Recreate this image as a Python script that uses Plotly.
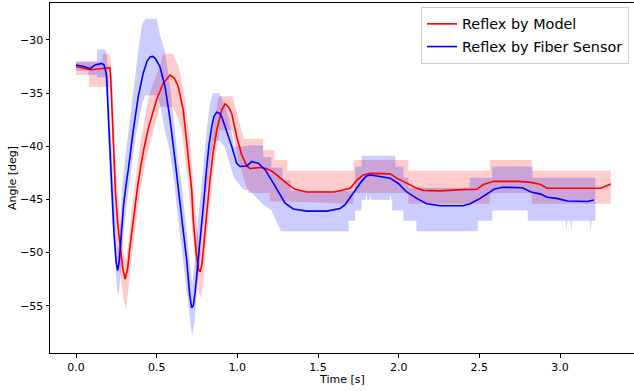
import plotly.graph_objects as go

# ---- Reflex by Model (red) ----
model_t = [0.00, 0.05, 0.09, 0.15, 0.19, 0.21, 0.215, 0.225, 0.235, 0.245, 0.26, 0.275, 0.29, 0.304,
           0.32, 0.335, 0.35, 0.366, 0.38, 0.40, 0.42, 0.45, 0.48, 0.50, 0.54, 0.583, 0.61, 0.634,
           0.665, 0.686, 0.707, 0.717, 0.727, 0.745, 0.76, 0.769, 0.78, 0.79, 0.81, 0.83, 0.85,
           0.872, 0.903, 0.924, 0.945, 0.965, 0.996, 1.027, 1.058, 1.08, 1.14, 1.18, 1.22, 1.265,
           1.316, 1.358, 1.43, 1.60, 1.678, 1.70, 1.74, 1.78, 1.823, 1.885, 1.947, 1.988, 2.05,
           2.112, 2.153, 2.257, 2.36, 2.484, 2.525, 2.567, 2.59, 2.736, 2.82, 2.88, 2.92, 3.046,
           3.253, 3.315]
model_angle = [-32.5, -32.7, -32.8, -32.7, -32.6, -32.6, -33.5, -37.0, -41.0, -44.5, -47.5, -49.8, -51.5, -52.5,
               -51.5, -49.4, -47.5, -45.8, -44.0, -42.0, -40.3, -38.2, -36.5, -35.6, -34.1, -33.3, -33.6, -34.4,
               -36.6, -39.4, -42.2, -44.1, -47.0, -50.0, -51.6, -51.8, -51.2, -49.5, -46.0, -43.2, -40.6,
               -38.5, -36.6, -36.0, -36.3, -36.9, -39.1, -40.8, -41.85, -42.1, -42.0, -42.1, -42.4, -43.0,
               -43.6, -44.05, -44.3, -44.3, -44.05, -43.95, -43.2, -42.7, -42.55, -42.6, -42.6, -43.0, -43.5,
               -43.95, -44.15, -44.2, -44.1, -44.05, -43.6, -43.4, -43.3, -43.3, -43.4, -43.6, -43.95, -43.95,
               -43.95, -43.55]

model_band_t = [0.00, 0.08, 0.08, 0.165, 0.165, 0.205, 0.215, 0.225, 0.235, 0.25, 0.265, 0.28, 0.295, 0.31,
                0.325, 0.34, 0.36, 0.38, 0.40, 0.43, 0.446, 0.48, 0.52, 0.54, 0.60, 0.615, 0.635, 0.655,
                0.675, 0.695, 0.715, 0.735, 0.755, 0.775, 0.79, 0.805, 0.82, 0.84, 0.86, 0.88, 0.89, 0.97,
                1.00, 1.04, 1.07, 1.16, 1.16, 1.20, 1.20, 1.23, 1.23, 1.31, 1.31, 1.72, 1.72, 2.06, 2.06,
                2.565, 2.565, 2.825, 2.825, 3.315]
model_band_lo = [-33.3, -33.3, -34.4, -34.4, -34.4, -34.4, -35.5, -39.5, -44.0, -48.5, -51.0, -53.0, -54.5, -55.3,
                 -53.5, -51.0, -48.5, -46.0, -44.0, -41.5, -40.5, -38.5, -36.3, -36.3, -36.3, -36.8, -37.5, -38.5,
                 -41.0, -43.5, -47.0, -50.5, -53.5, -54.3, -52.5, -49.5, -47.0, -44.0, -41.5, -39.5, -38.5, -38.5,
                 -41.0, -43.0, -44.4, -44.4, -44.4, -44.4, -45.2, -45.2, -45.2, -45.2, -45.2, -45.4, -44.4, -44.4, -45.4,
                 -45.4, -44.4, -44.4, -45.4, -45.4]
model_band_hi = [-32.1, -32.1, -32.1, -32.1, -31.3, -31.3, -31.8, -34.0, -37.5, -42.5, -45.5, -48.0, -50.0, -50.8,
                 -49.0, -46.5, -44.0, -41.5, -39.5, -37.0, -35.6, -34.0, -32.5, -31.3, -31.3, -31.8, -32.5, -33.8,
                 -35.5, -38.0, -41.0, -45.0, -48.5, -50.0, -47.0, -44.0, -41.5, -39.5, -37.5, -35.5, -35.3, -35.3,
                 -37.0, -39.3, -39.3, -39.3, -40.35, -40.35, -40.35, -40.35, -41.3, -41.3, -42.3, -42.3, -41.3, -41.3, -42.3,
                 -42.3, -41.3, -41.3, -42.3, -42.3]

# ---- Reflex by Fiber Sensor (blue) ----
fiber_t = [0.00, 0.05, 0.087, 0.118, 0.159, 0.174, 0.185, 0.19, 0.20, 0.211, 0.221, 0.235, 0.248, 0.258,
           0.268, 0.28, 0.295, 0.314, 0.324, 0.355, 0.386, 0.417, 0.44, 0.459, 0.475, 0.49, 0.52, 0.552,
           0.583, 0.614, 0.634, 0.645, 0.665, 0.686, 0.705, 0.717, 0.727, 0.738, 0.755, 0.769, 0.79, 0.81,
           0.825, 0.841, 0.855, 0.872, 0.89, 0.903, 0.934, 0.965, 0.996, 1.017, 1.058, 1.089, 1.13, 1.172,
           1.213, 1.254, 1.296, 1.347, 1.43, 1.554, 1.637, 1.668, 1.70, 1.74, 1.77, 1.80, 1.823, 1.885,
           1.947, 1.998, 2.05, 2.112, 2.174, 2.257, 2.40, 2.443, 2.505, 2.556, 2.59, 2.643, 2.767, 2.82,
           2.88, 2.92, 2.98, 3.046, 3.17, 3.21]
fiber_angle = [-32.35, -32.5, -32.7, -32.35, -32.2, -32.35, -33.0, -33.5, -37.0, -40.7, -43.5, -48.0, -50.8, -51.7,
               -50.8, -48.0, -45.5, -43.2, -42.2, -38.5, -35.3, -33.1, -32.0, -31.6, -31.55, -31.7, -32.5, -34.4,
               -37.5, -41.3, -44.1, -45.05, -48.0, -50.7, -54.0, -55.2, -55.0, -53.8, -51.2, -49.1, -45.5, -42.0,
               -39.8, -38.2, -37.2, -36.8, -36.9, -37.2, -38.5, -40.0, -41.6, -41.9, -41.85, -41.45, -41.6, -42.2,
               -43.2, -44.3, -45.35, -45.9, -46.1, -46.1, -45.85, -45.5, -44.8, -44.0, -43.3, -42.8, -42.7, -42.85,
               -43.0, -43.5, -44.3, -44.9, -45.4, -45.6, -45.6, -45.4, -44.9, -44.4, -44.05, -43.85, -43.9, -44.3,
               -44.5, -44.8, -44.9, -45.15, -45.2, -45.05]

fiber_band_t = [0.00, 0.075, 0.075, 0.13, 0.13, 0.18, 0.19, 0.20, 0.21, 0.225, 0.24, 0.255, 0.265, 0.275,
                0.29, 0.31, 0.33, 0.35, 0.37, 0.39, 0.41, 0.43, 0.50, 0.52, 0.55, 0.58, 0.61, 0.63,
                0.65, 0.67, 0.69, 0.71, 0.72, 0.735, 0.75, 0.77, 0.79, 0.81, 0.83, 0.85, 0.89, 0.92,
                0.95, 0.98, 1.04, 1.07, 1.13, 1.16, 1.16, 1.21, 1.21, 1.27, 1.28, 1.28, 1.33, 1.33,
                1.69, 1.69, 1.73, 1.73, 1.77, 1.77, 1.795, 1.80, 1.805, 1.82, 1.825, 1.83, 1.945, 1.95,
                1.955, 1.96, 1.96, 1.98, 1.98, 2.03, 2.03, 2.06, 2.06, 2.11, 2.11, 2.44, 2.44, 2.49,
                2.49, 2.58, 2.58, 2.80, 2.80, 2.83, 2.83, 3.035, 3.04, 3.045, 3.065, 3.07, 3.075, 3.185,
                3.19, 3.195, 3.22]
fiber_band_lo = [-32.9, -32.9, -33.3, -33.3, -33.5, -33.5, -35.0, -39.0, -43.0, -47.0, -50.5, -53.5, -54.0, -52.0,
                 -49.0, -46.0, -43.5, -41.0, -39.0, -37.5, -36.0, -35.2, -35.2, -36.0, -38.5, -40.3, -43.5, -46.5,
                 -49.0, -51.5, -54.5, -57.0, -57.9, -56.5, -53.5, -50.5, -47.5, -44.5, -41.5, -39.5, -39.5, -40.0,
                 -41.5, -43.0, -44.1, -44.1, -45.0, -45.5, -45.5, -46.0, -46.0, -48.0, -48.0, -48.0, -48.0, -48.0,
                 -48.0, -47.0, -47.0, -46.05, -46.05, -45.05, -45.05, -44.3, -45.05, -45.05, -44.5, -45.05, -45.05, -44.5,
                 -45.05, -45.05, -46.05, -46.05, -46.05, -46.05, -47.0, -47.0, -47.0, -47.0, -48.0, -48.0, -48.0, -48.0,
                 -47.0, -47.0, -46.05, -46.05, -47.0, -47.0, -47.0, -47.0, -48.0, -47.0, -47.0, -48.0, -47.0, -47.0,
                 -48.0, -47.0, -47.0]
fiber_band_hi = [-32.0, -32.0, -32.0, -32.0, -30.9, -30.9, -31.3, -33.5, -37.0, -41.5, -45.5, -49.5, -49.5, -46.5,
                 -43.0, -40.5, -38.0, -35.5, -32.5, -30.5, -28.5, -28.0, -28.0, -29.5, -31.0, -34.0, -38.0, -41.0,
                 -43.0, -46.0, -48.5, -52.0, -53.0, -51.0, -48.0, -45.0, -41.5, -38.5, -36.0, -35.0, -35.0, -36.0,
                 -37.5, -40.0, -40.0, -39.9, -39.9, -39.9, -41.0, -41.0, -42.0, -42.0, -42.0, -43.2, -43.2, -44.2,
                 -44.2, -44.2, -44.2, -41.9, -41.9, -40.9, -40.9, -40.9, -40.9, -40.9, -40.9, -40.9, -40.9, -40.9,
                 -40.9, -40.9, -40.9, -40.9, -41.9, -41.9, -42.95, -42.95, -43.9, -43.9, -43.9, -43.9, -42.95, -42.95,
                 -42.95, -42.95, -41.9, -41.9, -41.9, -41.9, -42.95, -42.95, -42.95, -42.95, -42.95, -42.95, -42.95, -42.95,
                 -42.95, -42.95, -42.95]

x_ticks = [0.0, 0.5, 1.0, 1.5, 2.0, 2.5, 3.0]
y_ticks = [-55, -50, -45, -40, -35, -30]

RED = "#ff0000"
BLUE = "#0000ff"
FONT = "DejaVu Sans"

fig = go.Figure()

# shaded bands
fig.add_trace(go.Scatter(x=model_band_t, y=model_band_lo, mode="lines", line=dict(width=0),
                         showlegend=False, hoverinfo="skip"))
fig.add_trace(go.Scatter(x=model_band_t, y=model_band_hi, mode="lines", line=dict(width=0),
                         fill="tonexty", fillcolor="rgba(255,0,0,0.2)", showlegend=False, hoverinfo="skip"))
fig.add_trace(go.Scatter(x=fiber_band_t, y=fiber_band_lo, mode="lines", line=dict(width=0),
                         showlegend=False, hoverinfo="skip"))
fig.add_trace(go.Scatter(x=fiber_band_t, y=fiber_band_hi, mode="lines", line=dict(width=0),
                         fill="tonexty", fillcolor="rgba(0,0,255,0.2)", showlegend=False, hoverinfo="skip"))

# mean lines
fig.add_trace(go.Scatter(x=model_t, y=model_angle, mode="lines", name="Reflex by Model",
                         line=dict(color=RED, width=1.6), legendgroup="a"))
fig.add_trace(go.Scatter(x=fiber_t, y=fiber_angle, mode="lines", name="Reflex by Fiber Sensor",
                         line=dict(color=BLUE, width=1.6), legendgroup="b"))

axis_common = dict(showgrid=False, zeroline=False, showline=True, linecolor="black", linewidth=1,
                   ticks="outside", ticklen=3.5, tickwidth=0.8, tickcolor="black", automargin=False,
                   tickfont=dict(family=FONT, size=11, color="black"))

fig.update_layout(
    width=634, height=391,
    margin=dict(l=50, r=0, t=3, b=38, autoexpand=False),
    paper_bgcolor="white", plot_bgcolor="white",
    font=dict(family=FONT, color="black"),
    xaxis=dict(range=[-0.1612, 3.4587], tickvals=x_ticks, tickformat=".1f", mirror=True,
               **axis_common),
    yaxis=dict(range=[-59.45, -26.52], tickvals=y_ticks, mirror=False,
               **axis_common),
    legend=dict(x=0.9914, y=0.9886, xanchor="right", yanchor="top",
                bgcolor="rgba(255,255,255,0.8)", bordercolor="#cccccc", borderwidth=1,
                font=dict(family=FONT, size=14.4, color="black"),
                traceorder="grouped", tracegroupgap=1, itemwidth=30),
    annotations=[
        dict(text="Time [s]", xref="paper", yref="paper", x=0.5, y=-0.0743,
             xanchor="center", yanchor="middle", showarrow=False,
             font=dict(family=FONT, size=11, color="black")),
        dict(text="Angle [deg]", xref="paper", yref="paper", x=-0.0651, y=0.5,
             xanchor="center", yanchor="middle", textangle=-90, showarrow=False,
             font=dict(family=FONT, size=11, color="black")),
    ],
)

fig.write_html("out.html", config={"displayModeBar": False},
               post_script="document.body.style.margin='0';document.body.style.overflow='hidden';")
